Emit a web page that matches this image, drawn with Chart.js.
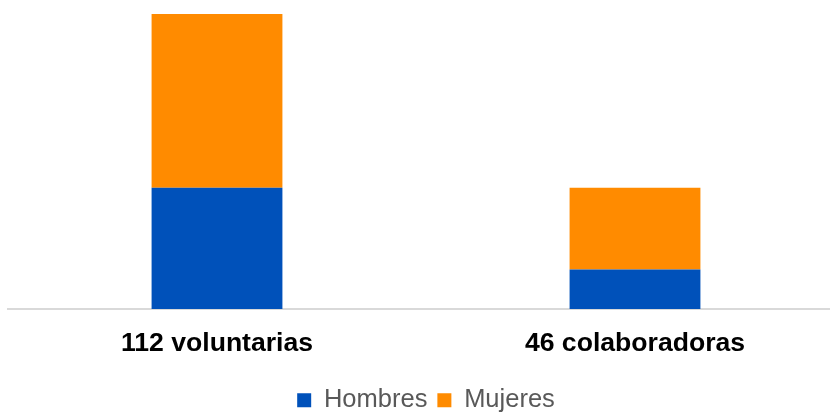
<!DOCTYPE html>
<html>
<head>
<meta charset="utf-8">
<script src="https://cdn.jsdelivr.net/npm/chart.js@4"></script>
<style>
    html, body { margin: 0; padding: 0; background: #ffffff; overflow: hidden; }
    #frame { width: 830px; height: 412px; overflow: hidden; }
    #wrap { width: 844px; height: 423px; position: relative; }
</style>
</head>
<body>
<div id="frame"><div id="wrap"><canvas id="chart-people"></canvas></div></div>
<script>
// ─── Data ───────────────────────────────────────────────
const categories = ['112 voluntarias', '46 colaboradoras'];
const seriesNames = ['Hombres', 'Mujeres'];
const hombres = [46, 15];
const mujeres = [66, 31];

const colors = {
    hombres: '#0051BA',
    mujeres: '#FF8B00'
};

const fontFamily = '"Liberation Sans", Arial, Helvetica, sans-serif';

// ─── Stacked bar chart ──────────────────────────────────
const ctx = document.getElementById('chart-people');
new Chart(ctx, {
    type: 'bar',
    data: {
        labels: categories,
        datasets: [
            {
                label: seriesNames[0],
                data: hombres,
                backgroundColor: colors.hombres,
                borderWidth: 0
            },
            {
                label: seriesNames[1],
                data: mujeres,
                backgroundColor: colors.mujeres,
                borderWidth: 0
            }
        ]
    },
    options: {
        responsive: true,
        maintainAspectRatio: false,
        animation: false,
        layout: { padding: { top: 14, left: 8, right: 0, bottom: 0 } },
        datasets: {
            bar: { categoryPercentage: 1, barPercentage: 0.313 }
        },
        plugins: {
            tooltip: { enabled: false },
            legend: {
                position: 'bottom',
                labels: {
                    boxWidth: 14,
                    boxHeight: 14,
                    padding: 10,
                    color: '#595959',
                    font: { family: fontFamily, size: 25.5 }
                }
            }
        },
        scales: {
            x: {
                stacked: true,
                grid: { display: false, drawTicks: false },
                border: { display: true, color: '#d9d9d9', width: 2 },
                ticks: {
                    padding: 13,
                    color: '#000000',
                    font: { family: fontFamily, size: 26.6, weight: 'bold', lineHeight: 1.6 }
                }
            },
            y: {
                stacked: true,
                display: false,
                min: 0,
                max: 112
            }
        }
    }
});
</script>
</body>
</html>
